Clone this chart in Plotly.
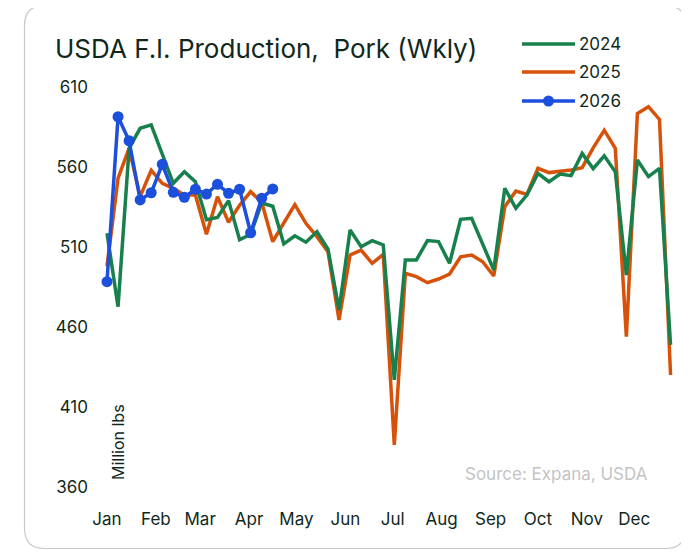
import plotly.graph_objects as go

# ---------------- data (weekly, million lbs) ----------------
weeks = list(range(52))
prod_2024 = [518.6, 472.7, 571.7, 584.2, 586.3, 568.0, 549.8, 557.0, 550.8, 527.0,
             528.5, 539.0, 514.5, 518.0, 537.5, 535.5, 512.0, 517.0, 513.0, 519.6,
             508.6, 470.6, 520.6, 510.2, 514.0, 511.3, 426.9, 501.9, 501.9, 514.0,
             513.4, 499.8, 527.3, 527.9, 511.3, 495.6, 546.7, 534.2, 542.5, 556.0,
             550.8, 555.6, 554.6, 568.5, 559.0, 567.0, 557.0, 492.5, 564.4, 554.0,
             559.2, 448.8]
prod_2025 = [498.0, 553.0, 571.7, 541.5, 558.0, 549.8, 546.7, 542.5, 542.5, 518.0,
             541.4, 525.5, 536.0, 544.6, 538.0, 513.3, 525.0, 536.5, 524.8, 516.5,
             507.0, 464.4, 505.0, 508.0, 499.8, 505.4, 386.3, 493.6, 491.5, 487.7,
             490.0, 493.1, 503.9, 505.0, 500.8, 491.9, 535.2, 545.0, 542.9, 559.2,
             556.5, 557.1, 558.1, 559.6, 572.0, 583.0, 571.7, 454.0, 593.5, 597.7,
             589.8, 430.0]
prod_2026 = [488.3, 591.4, 576.4, 539.4, 543.9, 561.7, 544.2, 541.1, 546.1, 543.1,
             549.2, 543.6, 546.1, 518.9, 540.4, 546.3]

month_labels = ["Jan", "Feb", "Mar", "Apr", "May", "Jun",
                "Jul", "Aug", "Sep", "Oct", "Nov", "Dec"]
month_start_day = [0, 31, 59, 90, 120, 151, 181, 212, 243, 273, 304, 334]
month_ticks = [d / 7 for d in month_start_day]
y_ticks = [360, 410, 460, 510, 560, 610]

series_names = ["2024", "2025", "2026"]
series_colors = ["#17804C", "#D6520A", "#1C4FDB"]

# ---------------- geometry ----------------
# page body has an 8px margin: figure pixel = window pixel - 8
OFF = 8
W, H = 689 - OFF, 552 - OFF
L, R, T, B = 95 - OFF, 680 - OFF, 80 - OFF, 495 - OFF
X0, DX = 107 - OFF, 11.05      # pixel of week 0, pixels per week
Y610, PXU = 87 - OFF, 1.6      # pixel of 610, pixels per unit


def pxp(x):
    """window pixel x -> paper"""
    return (x - OFF - L) / (R - L)


def pyp(y):
    """window pixel y -> paper"""
    return (B - (y - OFF)) / (B - T)


x_range = [(L - X0) / DX, (R - X0) / DX]
y_range = [610 - (B - Y610) / PXU, 610 + (Y610 - T) / PXU]

TXT = "#10281C"
FONT = "Inter"
LW = 3.5

fig = go.Figure()
fig.add_trace(go.Scatter(x=weeks, y=prod_2025, mode="lines", name="2025",
                         line=dict(color=series_colors[1], width=LW)))
fig.add_trace(go.Scatter(x=weeks, y=prod_2024, mode="lines", name="2024",
                         line=dict(color=series_colors[0], width=LW)))
fig.add_trace(go.Scatter(x=weeks[:len(prod_2026)], y=prod_2026, mode="lines+markers",
                         name="2026", line=dict(color=series_colors[2], width=LW),
                         marker=dict(size=11, color=series_colors[2])))

# card outline (rounded rectangle), window pixel coords
cl, cr, ct, cb, rad = 24.5, 685.5, 5.5, 548.5, 20
path = (f"M {pxp(cl + rad)},{pyp(ct)} L {pxp(cr - rad)},{pyp(ct)} "
        f"Q {pxp(cr)},{pyp(ct)} {pxp(cr)},{pyp(ct + rad)} "
        f"L {pxp(cr)},{pyp(cb - rad)} Q {pxp(cr)},{pyp(cb)} {pxp(cr - rad)},{pyp(cb)} "
        f"L {pxp(cl + rad)},{pyp(cb)} Q {pxp(cl)},{pyp(cb)} {pxp(cl)},{pyp(cb - rad)} "
        f"L {pxp(cl)},{pyp(ct + rad)} Q {pxp(cl)},{pyp(ct)} {pxp(cl + rad)},{pyp(ct)} Z")
shapes = [dict(type="path", path=path, xref="paper", yref="paper",
               line=dict(color="#C9C9C9", width=1.2), layer="below")]

# legend (manual)
annotations = []
leg_y = [44, 72, 101]
for name, col, yy in zip(series_names, series_colors, leg_y):
    shapes.append(dict(type="line", xref="paper", yref="paper",
                       x0=pxp(522), x1=pxp(575), y0=pyp(yy), y1=pyp(yy),
                       line=dict(color=col, width=LW)))
    annotations.append(dict(x=pxp(577), y=pyp(yy), xref="paper", yref="paper",
                            text=name, showarrow=False, xanchor="left", yanchor="middle",
                            font=dict(family=FONT, size=17, color=TXT)))
shapes.append(dict(type="circle", xref="paper", yref="paper",
                   x0=pxp(543), x1=pxp(554), y0=pyp(95.5), y1=pyp(106.5),
                   fillcolor=series_colors[2], line=dict(color=series_colors[2], width=0)))

annotations.append(dict(x=pxp(53), y=pyp(48), xref="paper", yref="paper",
                        text="USDA F.I. Production,  Pork (Wkly)", showarrow=False,
                        xanchor="left", yanchor="middle",
                        font=dict(family=FONT, size=26, color=TXT)))
annotations.append(dict(x=pxp(650), y=pyp(474), xref="paper", yref="paper",
                        text="Source: Expana, USDA", showarrow=False,
                        xanchor="right", yanchor="middle",
                        font=dict(family=FONT, size=17, color="#C4C4C4")))
annotations.append(dict(x=pxp(118), y=pyp(442), xref="paper", yref="paper",
                        text="Million lbs", showarrow=False, textangle=-90,
                        xanchor="center", yanchor="middle",
                        font=dict(family=FONT, size=16, color=TXT)))

fig.update_layout(
    width=W, height=H,
    margin=dict(l=L, r=W - R, t=T, b=H - B, pad=0),
    paper_bgcolor="white", plot_bgcolor="white",
    showlegend=False,
    shapes=shapes, annotations=annotations,
    xaxis=dict(range=x_range, tickvals=month_ticks, ticktext=month_labels,
               showgrid=False, zeroline=False, showline=False, ticks="",
               ticklabelstandoff=12,
               tickfont=dict(family=FONT, size=17, color=TXT)),
    yaxis=dict(range=y_range, tickvals=y_ticks, showgrid=False, zeroline=False,
               showline=False, ticks="", ticklabelstandoff=6,
               tickfont=dict(family=FONT, size=17, color=TXT)),
)

fig.write_html("out.html")
